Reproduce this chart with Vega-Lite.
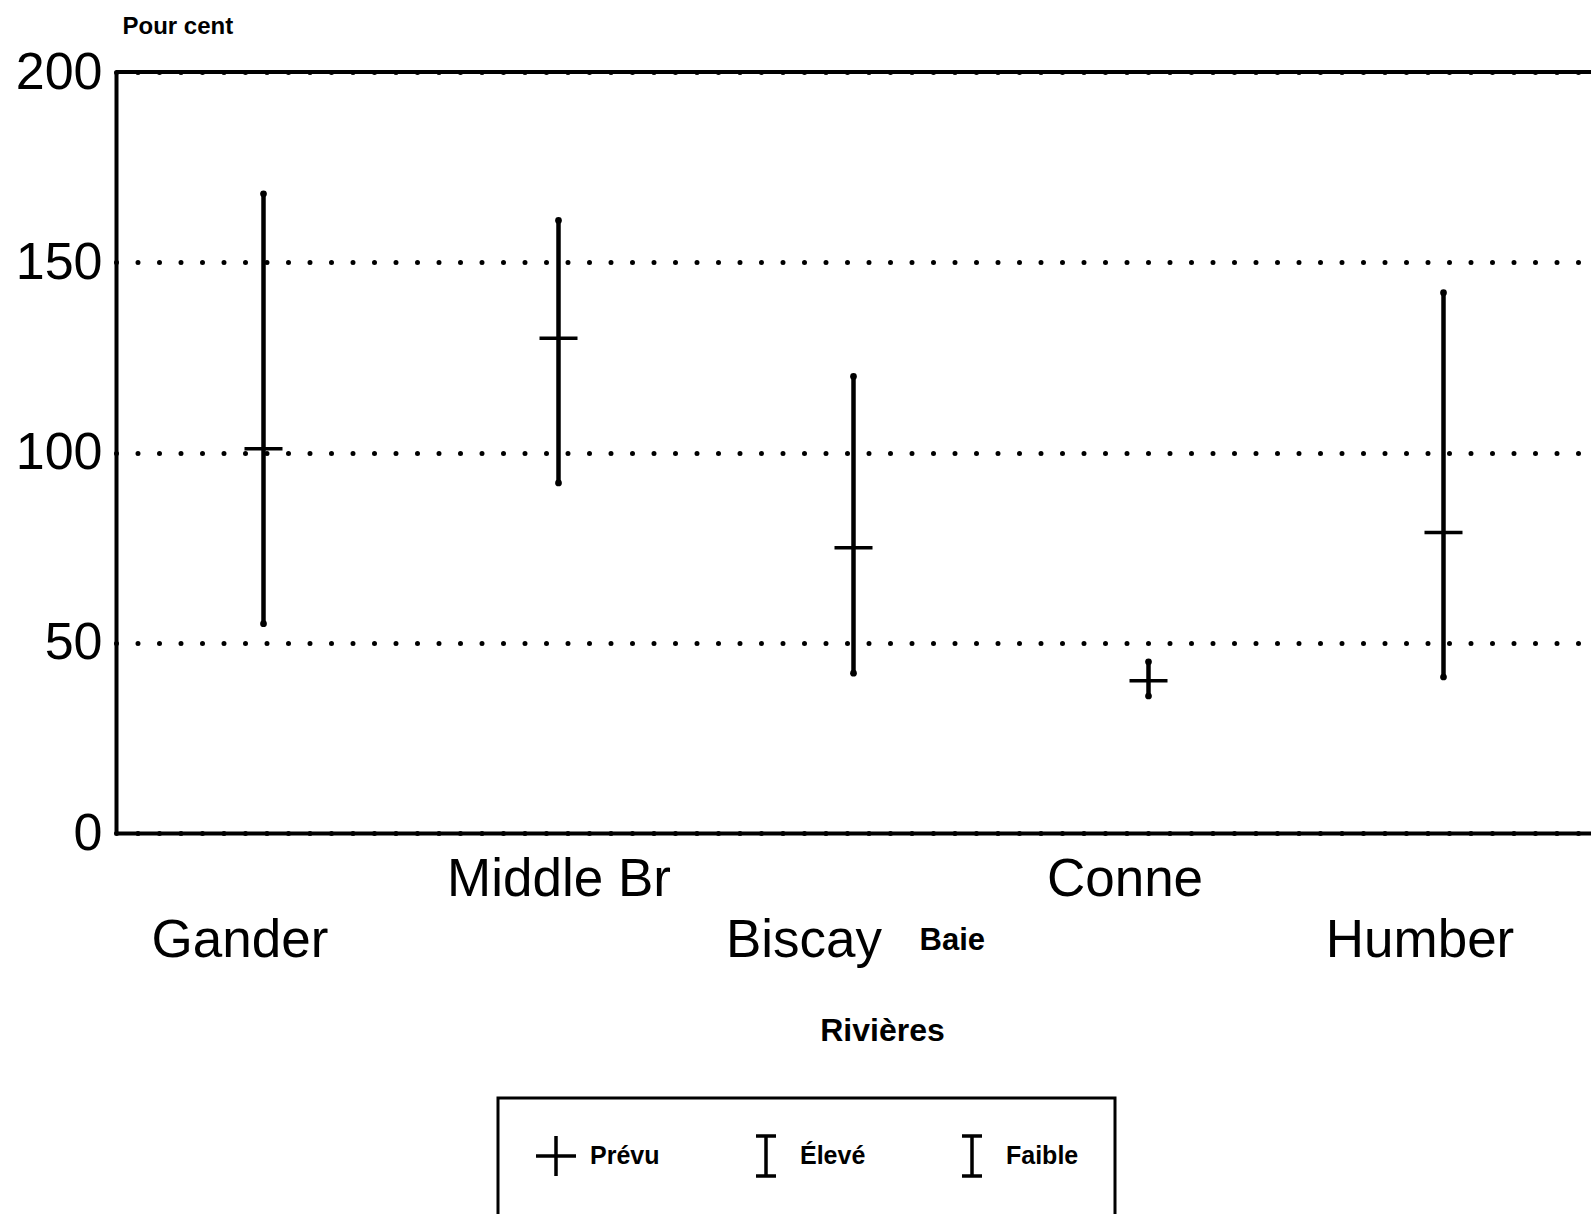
{
  "$schema": "https://vega.github.io/schema/vega-lite/v6.json",
  "width": 1475,
  "height": 761,
  "autosize": {"type": "none"},
  "padding": {"left": 116, "top": 72, "right": 0, "bottom": 381},
  "background": "white",
  "config": {
    "view": {"stroke": null},
    "font": "Liberation Sans",
    "axis": {"labelColor": "black", "titleColor": "black", "domainColor": "black"},
    "legend": {"strokeWidth": 3}
  },
  "data": {
    "values": [
      {"riviere": "Gander", "prevu": 101, "eleve": 168, "faible": 55},
      {"riviere": "Middle Br", "prevu": 130, "eleve": 161, "faible": 92},
      {"riviere": "Biscay", "prevu": 75, "eleve": 120, "faible": 42},
      {"riviere": "Conne", "prevu": 40, "eleve": 45, "faible": 36},
      {"riviere": "Humber", "prevu": 79, "eleve": 142, "faible": 41}
    ]
  },
  "layer": [
    {
      "mark": {"type": "rule", "color": "black", "strokeWidth": 4.5},
      "encoding": {
        "x": {
          "field": "riviere", "type": "nominal", "sort": null, "title": "Rivières",
          "scale": {"type": "point", "padding": 0.5},
          "axis": {
            "labelAngle": 0,
            "labelFontSize": 53,
            "labelLimit": 500,
            "labelBaseline": "alphabetic",
            "labelPadding": {"condition": {"test": "datum.value == 'Middle Br' || datum.value == 'Conne'", "value": 62}, "value": 123},
            "labelOffset": {"condition": [{"test": "datum.value == 'Biscay'", "value": -50}, {"test": "datum.value == 'Middle Br'", "value": 0}], "value": -24},
            "ticks": false,
            "tickSize": 0,
            "domainWidth": 4,
            "grid": false,
            "titleFontSize": 32,
            "titleFontWeight": "bold",
            "titleAlign": "center",
            "titleBaseline": "alphabetic",
            "titleX": 766,
            "titleY": 207
          }
        },
        "y": {
          "field": "faible", "type": "quantitative", "title": "Pour cent",
          "scale": {"domain": [0, 200], "nice": false},
          "axis": {
            "values": [0, 50, 100, 150, 200],
            "labelFontSize": 52,
            "labelPadding": 14,
            "ticks": false,
            "tickSize": 0,
            "domainWidth": 4,
            "grid": true,
            "gridColor": "black",
            "gridWidth": 5,
            "gridCap": "round",
            "gridDash": [0, 21.5],
            "gridOpacity": 1,
            "titleAngle": 0,
            "titleAlign": "left",
            "titleBaseline": "alphabetic",
            "titleFontSize": 24,
            "titleFontWeight": "bold",
            "titleX": 6,
            "titleY": -39
          }
        },
        "y2": {"field": "eleve"}
      }
    },
    {
      "data": {"values": [{"bord": 200}]},
      "mark": {"type": "rule", "color": "black", "strokeWidth": 4},
      "encoding": {
        "y": {"field": "bord", "type": "quantitative", "title": "Pour cent", "scale": {"domain": [0, 200], "nice": false}}
      }
    },
    {
      "mark": {"type": "tick", "orient": "horizontal", "color": "black", "size": 38, "thickness": 3.5, "opacity": 1},
      "encoding": {
        "x": {"field": "riviere", "type": "nominal", "sort": null, "title": "Rivières"},
        "y": {"field": "prevu", "type": "quantitative", "title": "Pour cent", "scale": {"domain": [0, 200], "nice": false}}
      }
    },
    {
      "transform": [{"fold": ["eleve", "faible"], "as": ["serie", "valeur"]}],
      "mark": {"type": "point", "filled": true, "color": "black", "size": 45, "opacity": 1},
      "encoding": {
        "x": {"field": "riviere", "type": "nominal", "sort": null, "title": "Rivières"},
        "y": {"field": "valeur", "type": "quantitative", "title": "Pour cent", "scale": {"domain": [0, 200], "nice": false}}
      }
    },
    {
      "transform": [{"fold": ["prevu", "eleve", "faible"], "as": ["serie", "valeur"]}],
      "mark": {"type": "point", "filled": false, "color": "black", "opacity": 0, "strokeWidth": 3},
      "encoding": {
        "x": {"field": "riviere", "type": "nominal", "sort": null, "title": "Rivières"},
        "y": {"field": "valeur", "type": "quantitative", "title": "Pour cent", "scale": {"domain": [0, 200], "nice": false}},
        "shape": {
          "field": "serie", "type": "nominal",
          "scale": {
            "domain": ["prevu", "eleve", "faible"],
            "range": ["M-1,0H1M0,-1V1", "M-0.5,-1H0.5M0,-1V1M-0.5,1H0.5", "M-0.5,-1H0.5M0,-1V1M-0.5,1H0.5"]
          },
          "legend": {
            "title": null,
            "orient": "none",
            "legendX": 382,
            "legendY": 1026,
            "direction": "horizontal",
            "padding": 36,
            "strokeColor": "black",
            "fillColor": "white",
            "symbolSize": 1600,
            "symbolStrokeWidth": 3.5,
            "symbolStrokeColor": "black",
            "symbolFillColor": "transparent",
            "symbolOpacity": 1,
            "labelFontSize": 25,
            "labelFontWeight": "bold",
            "labelColor": "black",
            "labelOffset": 12,
            "columnPadding": 84,
            "labelExpr": "{'prevu': 'Prévu', 'eleve': 'Élevé', 'faible': 'Faible'}[datum.label]"
          }
        }
      }
    },
    {
      "data": {"values": [{"riviere": "Biscay", "mot": "Baie", "base": 0}]},
      "mark": {"type": "text", "align": "left", "baseline": "alphabetic", "dx": 66, "dy": 117, "fontSize": 31, "fontWeight": "bold", "color": "black"},
      "encoding": {
        "x": {"field": "riviere", "type": "nominal", "sort": null, "title": "Rivières"},
        "y": {"field": "base", "type": "quantitative", "title": "Pour cent", "scale": {"domain": [0, 200], "nice": false}},
        "text": {"field": "mot"}
      }
    }
  ]
}
